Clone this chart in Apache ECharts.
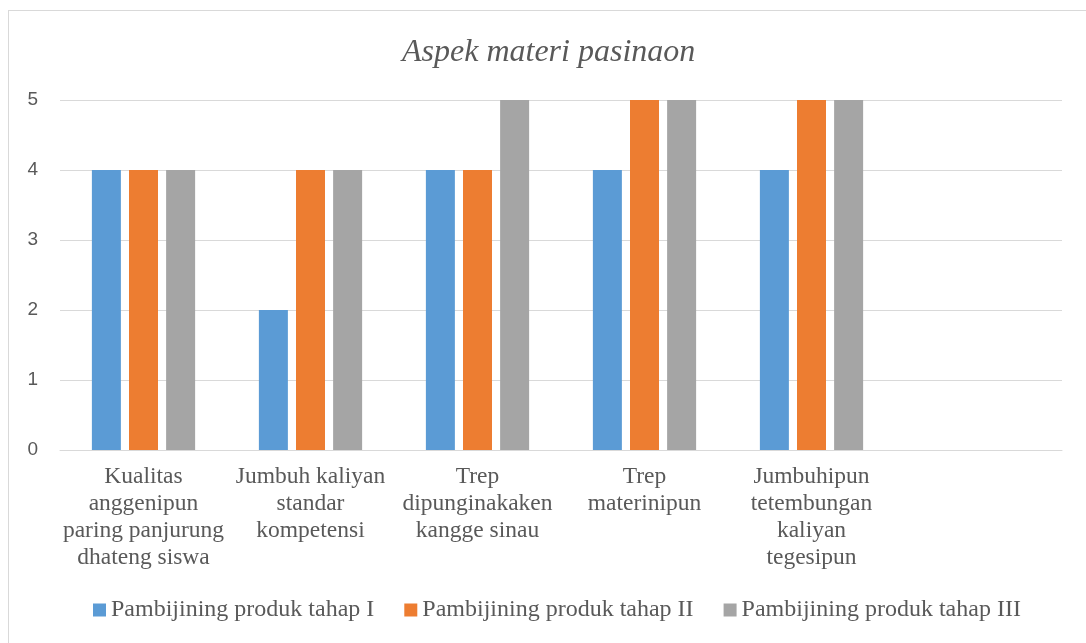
<!DOCTYPE html>
<html>
<head>
<meta charset="utf-8">
<script src="https://cdn.jsdelivr.net/npm/echarts@6/dist/echarts.min.js"></script>
<style>
  html, body { margin: 0; padding: 0; background: #fff; }
  #frame { position: absolute; left: 8px; top: 10px; width: 1090px; height: 640px; border: 1px solid #d9d9d9; box-sizing: border-box; }
  #chart { width: 1086px; height: 643px; }
</style>
</head>
<body>
<div id="frame"></div>
<div id="chart"></div>
<script>
// data
var categories = [
  'Kualitas\nanggenipun\nparing panjurung\ndhateng siswa',
  'Jumbuh kaliyan\nstandar\nkompetensi',
  'Trep\ndipunginakaken\nkangge sinau',
  'Trep\nmaterinipun',
  'Jumbuhipun\ntetembungan\nkaliyan\ntegesipun',
  ''
];
var tahap1 = [4, 2, 4, 4, 4, null];
var tahap2 = [4, 4, 4, 5, 5, null];
var tahap3 = [4, 4, 5, 5, 5, null];
var seriesNames = ['Pambijining produk tahap I', 'Pambijining produk tahap II', 'Pambijining produk tahap III'];
var colors = ['#5b9bd5', '#ed7d31', '#a5a5a5'];

var serif = '"Liberation Serif", "DejaVu Serif", serif';
var sans = '"Liberation Sans", Arial, sans-serif';

var chart = echarts.init(document.getElementById('chart'));
var option = {
  animation: false,
  color: colors,
  title: {
    text: 'Aspek materi pasinaon',
    left: 397,
    top: 32,
    textStyle: { fontFamily: serif, fontStyle: 'italic', fontWeight: 'normal', fontSize: 32, color: '#595959' }
  },
  legend: {
    bottom: 16,
    left: 88,
    itemWidth: 13,
    itemHeight: 13,
    itemGap: 30,
    icon: 'rect',
    textStyle: { fontFamily: serif, fontSize: 24, color: '#595959' },
    data: seriesNames
  },
  grid: { left: 60, right: 24, top: 100, bottom: 193 },
  xAxis: {
    type: 'category',
    data: categories,
    axisLine: { lineStyle: { color: '#d9d9d9', width: 1 } },
    axisTick: { show: false },
    axisLabel: { interval: 0, margin: 13, fontFamily: serif, fontSize: 23.5, lineHeight: 27, color: '#595959' }
  },
  yAxis: {
    type: 'value',
    min: 0,
    max: 5,
    interval: 1,
    axisLine: { show: false },
    axisTick: { show: false },
    splitLine: { lineStyle: { color: '#d9d9d9', width: 1 } },
    axisLabel: { margin: 22, fontFamily: sans, fontSize: 19, color: '#595959' }
  },
  series: [
    { name: seriesNames[0], type: 'bar', data: tahap1, barWidth: 29, barGap: '28%' },
    { name: seriesNames[1], type: 'bar', data: tahap2, barWidth: 29, barGap: '28%' },
    { name: seriesNames[2], type: 'bar', data: tahap3, barWidth: 29, barGap: '28%' }
  ]
};
chart.setOption(option);
</script>
</body>
</html>
